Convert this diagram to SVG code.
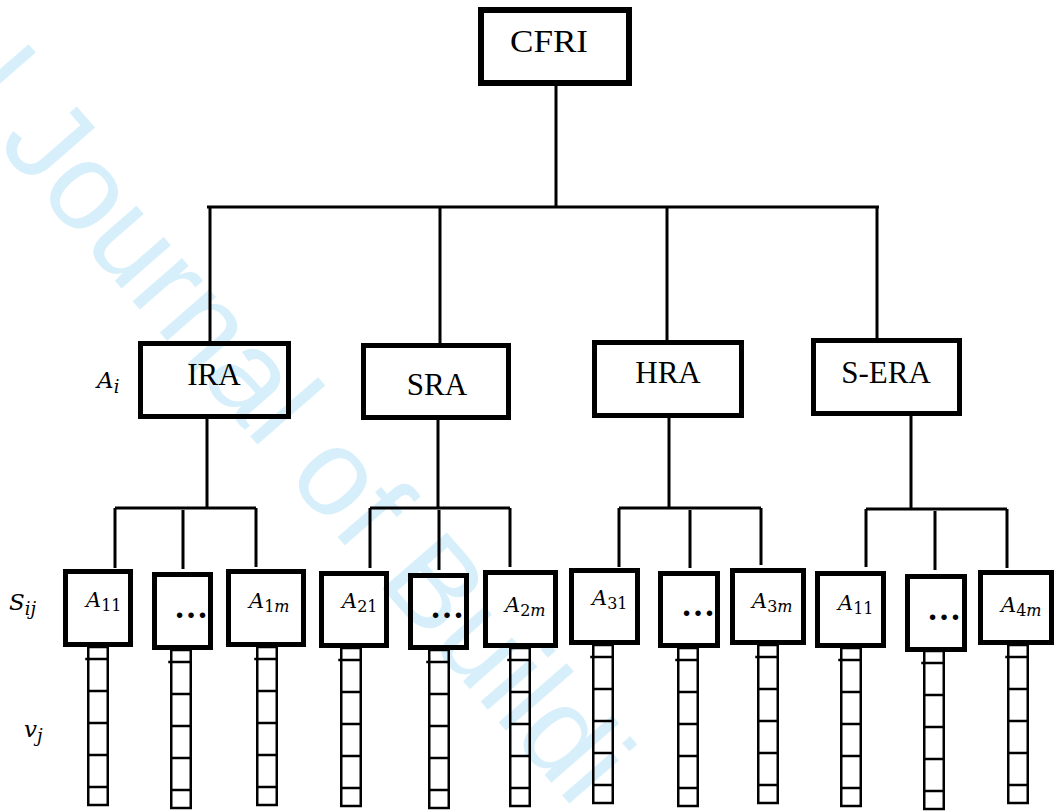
<svg xmlns="http://www.w3.org/2000/svg" width="1062" height="812" viewBox="0 0 1062 812">
<style>
.wm{font-family:"Liberation Sans",Arial,sans-serif;font-size:124px;fill:#d6effb}
.box{fill:none;stroke:#000;stroke-width:5}
.top{stroke-width:6}
.lbl{font-family:"Liberation Serif","Times New Roman",serif;font-size:31px;fill:#000;text-anchor:middle}
.m{font-family:"DejaVu Serif",serif;font-style:italic;font-size:21px;fill:#000}
.side{font-size:23px}
.sub{font-size:16px}
.sside{font-size:18px}
.up{font-style:normal}
.ln{stroke:#000;stroke-width:3;fill:none}
.lad{fill:none;stroke:#000;stroke-width:2.5}
.dots{font-family:"Liberation Serif","Times New Roman",serif;font-weight:bold;font-size:34px;text-anchor:middle;fill:#000}
</style>
<defs>
<g id="ladder" class="lad">
<rect x="0" y="0" width="19.5" height="158"/>
<path d="M-3 12H19.5M0 44H19.5M0 76H19.5M0 108H19.5M0 140H19.5"/>
</g>
</defs>
<rect width="1062" height="812" fill="#fff"/>
<text class="wm" transform="translate(-90,45) rotate(49)">al Journal of Buildi</text>

<g id="connectors" class="ln">
<path d="M556 86V207M207 207H879M210 207V341M440 207V343M667 207V340M877 207V338"/>
<path d="M207 419V508M115 508H256M115 508V568M183 510V569M256 508V567"/>
<path d="M438 420V508M370 508H510M370 508V568M439 510V570M510 508V567"/>
<path d="M669 418V508M619 508H761M619 508V567M690 510V568M761 508V565"/>
<path d="M911 416V509M866 509H1007M866 509V567M935 511V570M1007 509V568"/>
</g>

<g id="CFRI"><rect class="box top" x="481" y="10" width="148" height="73"/><text class="lbl" x="549" y="52" textLength="78" lengthAdjust="spacingAndGlyphs">CFRI</text></g>
<g id="IRA"><rect class="box" x="140.5" y="343.5" width="148" height="73"/><text class="lbl" x="214" y="385">IRA</text></g>
<g id="SRA"><rect class="box" x="363.5" y="345.5" width="145" height="72"/><text class="lbl" x="437" y="395">SRA</text></g>
<g id="HRA"><rect class="box" x="594.5" y="342.5" width="147" height="73"/><text class="lbl" x="668" y="383">HRA</text></g>
<g id="SERA"><rect class="box" x="813.5" y="340.5" width="146" height="73"/><text class="lbl" x="886" y="383">S-ERA</text></g>

<g id="labels">
<text class="m side" x="97" y="388">A<tspan class="sside" dy="5">i</tspan></text>
<text class="m side" x="9" y="610">S<tspan class="sside" dy="5">ij</tspan></text>
<text class="m side" x="24" y="737">v<tspan class="sside" dy="5">j</tspan></text>
</g>

<g id="A11a"><rect class="box" x="65.5" y="571.5" width="65" height="73"/><text class="m" x="86" y="607">A<tspan class="sub up" dy="4">11</tspan></text><use href="#ladder" x="88.25" y="647"/></g>
<g id="dots1"><rect class="box" x="154.5" y="574.5" width="56" height="73"/><text class="dots" x="191" y="618">…</text><use href="#ladder" x="171.25" y="650"/></g>
<g id="A1m"><rect class="box" x="228.5" y="571.5" width="75" height="73"/><text class="m" x="249" y="608">A<tspan class="sub" dy="4"><tspan class="up">1</tspan>m</tspan></text><use href="#ladder" x="257.25" y="647"/></g>

<g id="A21"><rect class="box" x="321.5" y="573.5" width="65" height="72"/><text class="m" x="342" y="608">A<tspan class="sub up" dy="4">21</tspan></text><use href="#ladder" x="341.25" y="648"/></g>
<g id="dots2"><rect class="box" x="410.5" y="575.5" width="56" height="72"/><text class="dots" x="447" y="618">…</text><use href="#ladder" x="429.25" y="650"/></g>
<g id="A2m"><rect class="box" x="485.5" y="572.5" width="70" height="73"/><text class="m" x="505" y="612">A<tspan class="sub" dy="4"><tspan class="up">2</tspan>m</tspan></text><use href="#ladder" x="510.25" y="648"/></g>

<g id="A31"><rect class="box" x="571.5" y="570.5" width="66" height="72"/><text class="m" x="592" y="605">A<tspan class="sub up" dy="4">31</tspan></text><use href="#ladder" x="593.25" y="645"/></g>
<g id="dots3"><rect class="box" x="660.5" y="573.5" width="57" height="72"/><text class="dots" x="698" y="616">…</text><use href="#ladder" x="678.25" y="648"/></g>
<g id="A3m"><rect class="box" x="732.5" y="570.5" width="71" height="72"/><text class="m" x="752" y="608">A<tspan class="sub" dy="4"><tspan class="up">3</tspan>m</tspan></text><use href="#ladder" x="758.25" y="645"/></g>

<g id="A11b"><rect class="box" x="817.5" y="573.5" width="66" height="72"/><text class="m" x="838" y="610">A<tspan class="sub up" dy="4">11</tspan></text><use href="#ladder" x="841.25" y="648"/></g>
<g id="dots4"><rect class="box" x="907.5" y="576.5" width="57" height="73"/><text class="dots" x="944" y="620">…</text><use href="#ladder" x="924.25" y="651"/></g>
<g id="A4m"><rect class="box" x="980.5" y="572.5" width="71" height="70"/><text class="m" x="1001" y="612">A<tspan class="sub" dy="4"><tspan class="up">4</tspan>m</tspan></text><use href="#ladder" x="1008.25" y="645"/></g>
</svg>
